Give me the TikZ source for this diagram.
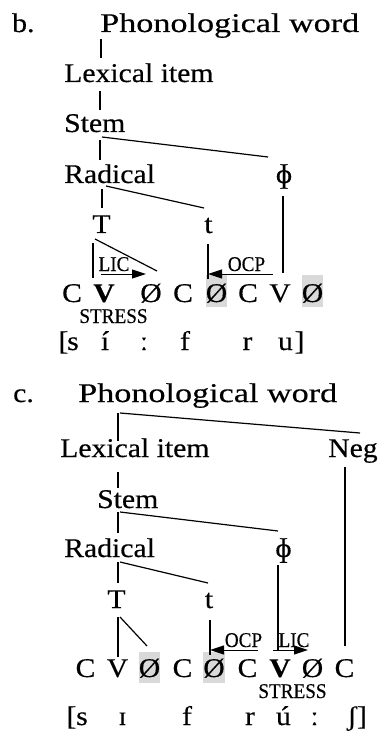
\documentclass[tikz,border=0pt]{standalone}
\usepackage{fontspec}
\setmainfont{Liberation Serif}[FakeStretch=1.1,FakeBold=0.4]
\usetikzlibrary{arrows.meta}
\definecolor{hilite}{gray}{0.85}
\begin{document}
\begin{tikzpicture}[x=1pt,y=-1pt,
  lab/.style={inner sep=0pt, font=\fontsize{27}{30}\selectfont},
  seg/.style={lab, anchor=base},
  bseg/.style={seg, font=\fontsize{27}{30}\selectfont\bfseries},
  word/.style={lab, anchor=base west},
  wide/.style={word, transform shape, xscale=1.15},
  small/.style={inner sep=0pt, anchor=base, transform shape, xscale=0.83, font=\fontsize{21}{24}\selectfont},
  branch/.style={line width=1.2pt},
  rel/.style={line width=1pt, -{Triangle[length=14pt,width=9pt]}}]
\useasboundingbox (0,0) rectangle (379,735);
% ---------- highlighted empty nuclei ----------
\fill[hilite] (206,275) rectangle (227,307);
\fill[hilite] (302,275) rectangle (323,307);
\fill[hilite] (139,652) rectangle (160,683);
\fill[hilite] (203,652) rectangle (225,683);
% ---------- b ----------
\node[word] (blabel) at (12,32) {b.};
\node[wide] (bpw) at (100,32) {Phonological word};
\node[word] (blex) at (64,82) {Lexical item};
\node[word] (bstem) at (64,132) {Stem};
\node[word] (brad) at (64,183) {Radical};
\node[seg] (bphi) at (284,183) {ɸ};
\node[seg] (bT) at (101.5,233) {T};
\node[seg] (bt) at (208.5,233) {t};
\node[seg] (bs1) at (72,302) {C};
\node[bseg] (bs2) at (104,302) {V};
\node[seg] (bs3) at (151,302) {Ø};
\node[seg] (bs4) at (183,302) {C};
\node[seg] (bs5) at (216.5,302) {Ø};
\node[seg] (bs6) at (248,302) {C};
\node[seg] (bs7) at (280,302) {V};
\node[seg] (bs8) at (312.5,302) {Ø};
\node[small] (bstress) at (113.5,323) {STRESS};
\node[small] (blic) at (114,271) {LIC};
\node[small] (bocp) at (246.5,271) {OCP};
\node[seg] (bp1) at (63.5,350) {[};
\node[seg] (bp2) at (73,350) {s};
\node[seg] (bp3) at (105,350) {í};
\node[seg] (bp4) at (144,350) {ː};
\node[seg] (bp5) at (185,350) {f};
\node[seg] (bp6) at (247.5,350) {r};
\node[seg] (bp7) at (285.5,350) {u};
\node[seg] (bp8) at (299.5,350) {]};
% b connector ends
\coordinate (b1a) at (101,39);  \coordinate (b1b) at (101,58);
\coordinate (b2a) at (100,91);  \coordinate (b2b) at (100,110);
\coordinate (b3a) at (100,140); \coordinate (b3b) at (100,160);
\coordinate (b4a) at (102,137); \coordinate (b4b) at (268,157);
\coordinate (b5a) at (102,189); \coordinate (b5b) at (102,208);
\coordinate (b6a) at (106,186); \coordinate (b6b) at (204,208);
\coordinate (b7a) at (283,196); \coordinate (b7b) at (283,273);
\coordinate (b8a) at (93,243);  \coordinate (b8b) at (93,278);
\coordinate (b9a) at (95,239);  \coordinate (b9b) at (157,271);
\coordinate (b10a) at (208,244); \coordinate (b10b) at (208,279);
\coordinate (blica) at (101,274); \coordinate (blicb) at (146,274);
\coordinate (bocpa) at (273,274); \coordinate (bocpb) at (208,274);
\draw[branch] (b1a) -- (b1b);
\draw[branch] (b2a) -- (b2b);
\draw[branch] (b3a) -- (b3b);
\draw[branch] (b4a) -- (b4b);
\draw[branch] (b5a) -- (b5b);
\draw[branch] (b6a) -- (b6b);
\draw[branch] (b7a) -- (b7b);
\draw[branch] (b8a) -- (b8b);
\draw[branch] (b9a) -- (b9b);
\draw[branch] (b10a) -- (b10b);
\draw[rel] (blica) -- (blicb);
\draw[rel] (bocpa) -- (bocpb);
% ---------- c ----------
\node[word] (clabel) at (13,402) {c.};
\node[wide] (cpw) at (78,402) {Phonological word};
\node[word] (clex) at (60,457) {Lexical item};
\node[word] (cneg) at (328,457) {Neg};
\node[word] (cstem) at (97,508) {Stem};
\node[word] (crad) at (64,557) {Radical};
\node[seg] (cphi) at (283.5,557) {ɸ};
\node[seg] (cT) at (116.5,608) {T};
\node[seg] (ct) at (209,608) {t};
\node[seg] (cs1) at (85.5,677) {C};
\node[seg] (cs2) at (117.5,677) {V};
\node[seg] (cs3) at (149.5,677) {Ø};
\node[seg] (cs4) at (182.5,677) {C};
\node[seg] (cs5) at (214,677) {Ø};
\node[seg] (cs6) at (247.5,677) {C};
\node[bseg] (cs7) at (280,677) {V};
\node[seg] (cs8) at (312.5,677) {Ø};
\node[seg] (cs9) at (344.5,677) {C};
\node[small] (cstress) at (292.5,698) {STRESS};
\node[small] (cocp) at (243.5,647) {OCP};
\node[small] (clic) at (294,647) {LIC};
\node[seg] (cp1) at (71.5,725) {[};
\node[seg] (cp2) at (82,725) {s};
\node[seg] (cp3) at (122.5,725) {ɪ};
\node[seg] (cp4) at (187,725) {f};
\node[seg] (cp5) at (250,725) {r};
\node[seg] (cp6) at (283.5,725) {ú};
\node[seg] (cp7) at (314.5,725) {ː};
\node[seg] (cp8) at (352,725) {ʃ};
\node[seg] (cp9) at (362,725) {]};
% c connector ends
\coordinate (c1a) at (118,413); \coordinate (c1b) at (118,441);
\coordinate (c2a) at (120,413); \coordinate (c2b) at (360,433);
\coordinate (c3a) at (118,472); \coordinate (c3b) at (118,488);
\coordinate (c4a) at (118,512); \coordinate (c4b) at (118,533);
\coordinate (c5a) at (120,512); \coordinate (c5b) at (278,531);
\coordinate (c6a) at (118,562); \coordinate (c6b) at (118,583);
\coordinate (c7a) at (120,562); \coordinate (c7b) at (208,583);
\coordinate (c8a) at (278,565); \coordinate (c8b) at (278,650);
\coordinate (c9a) at (345,467); \coordinate (c9b) at (345,646);
\coordinate (c10a) at (118,617); \coordinate (c10b) at (118,657);
\coordinate (c11a) at (120,617); \coordinate (c11b) at (147,646);
\coordinate (c12a) at (210,620); \coordinate (c12b) at (210,655);
\coordinate (cocpa) at (258,650); \coordinate (cocpb) at (210,650);
\coordinate (clica) at (273,650); \coordinate (clicb) at (308,650);
\draw[branch] (c1a) -- (c1b);
\draw[branch] (c2a) -- (c2b);
\draw[branch] (c3a) -- (c3b);
\draw[branch] (c4a) -- (c4b);
\draw[branch] (c5a) -- (c5b);
\draw[branch] (c6a) -- (c6b);
\draw[branch] (c7a) -- (c7b);
\draw[branch] (c8a) -- (c8b);
\draw[branch] (c9a) -- (c9b);
\draw[branch] (c10a) -- (c10b);
\draw[branch] (c11a) -- (c11b);
\draw[branch] (c12a) -- (c12b);
\draw[rel] (cocpa) -- (cocpb);
\draw[rel] (clica) -- (clicb);
\end{tikzpicture}
\end{document}
